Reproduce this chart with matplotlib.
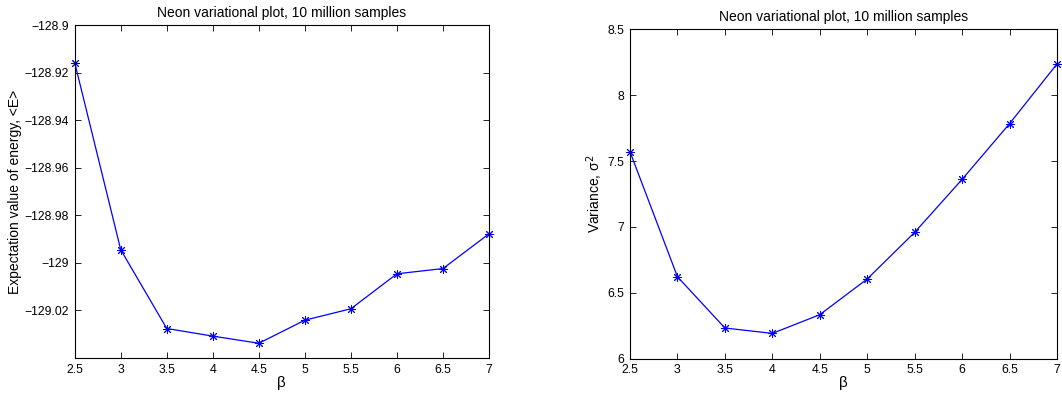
import matplotlib
matplotlib.use("Agg")
import matplotlib.pyplot as plt
from matplotlib.ticker import FuncFormatter, MultipleLocator, FixedLocator

plt.rcParams['font.family'] = ['Liberation Sans', 'DejaVu Sans']

beta = [2.5, 3, 3.5, 4, 4.5, 5, 5.5, 6, 6.5, 7]
energy = [-128.9158, -128.9945, -129.0276, -129.0308, -129.0338,
          -129.0241, -129.0193, -129.0046, -129.0024, -128.9878]
variance = [7.571, 6.622, 6.233, 6.192, 6.334, 6.605, 6.959, 7.361, 7.784, 8.237]
energy_ticks = [-129.02, -129.0, -128.98, -128.96, -128.94, -128.92, -128.9]
variance_ticks = [6, 6.5, 7, 7.5, 8, 8.5]

title = "Neon variational plot, 10 million samples"

W, H = 1062, 396
fig = plt.figure(figsize=(W / 100, H / 100), dpi=100)

def box(x0, y0, x1, y1):
    return [x0 / W, 1 - y1 / H, (x1 - x0) / W, (y1 - y0) / H]

ax1 = fig.add_axes(box(74.7, 25, 489, 358))
ax2 = fig.add_axes(box(630, 29.3, 1057, 358.7))

fmt = FuncFormatter(lambda v, p: ("%g" % v).replace("-", "\u2212"))

for ax, y, ylab, ylim, yticks in [
    (ax1, energy, "Expectation value of energy, <E>", (-129.04, -128.9), energy_ticks),
    (ax2, variance, "Variance, \u03c3$^2$", (6, 8.5), variance_ticks),
]:
    ax.plot(beta, y, color='blue', linewidth=0.9, marker=(8, 2, 0), markersize=6.5,
            markeredgewidth=0.7, clip_on=False)
    ax.set_xlim(2.5, 7)
    ax.set_ylim(*ylim)
    ax.xaxis.set_major_locator(MultipleLocator(0.5))
    ax.yaxis.set_major_locator(FixedLocator(yticks))
    ax.xaxis.set_major_formatter(fmt)
    ax.yaxis.set_major_formatter(fmt)
    ax.tick_params(direction='in', top=True, right=True, length=4,
                   width=0.6, labelsize=8.8, pad=4)
    for s in ax.spines.values():
        s.set_linewidth(0.8)
    ax.set_title(title, fontsize=10, pad=6)
    ax.set_xlabel("\u03b2", fontsize=11, labelpad=0)
    ax.set_ylabel(ylab, fontsize=10, labelpad=2)

fig.savefig("out.png", dpi=100)
